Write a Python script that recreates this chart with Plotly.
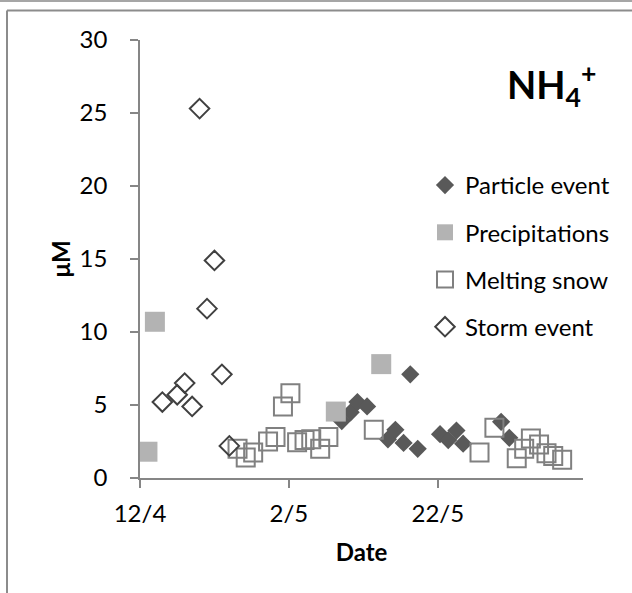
import plotly.graph_objects as go

# x values: days since 12 April
particle_days = [27.1, 28.3, 29.2, 30.5, 33.3, 34.3, 35.4, 36.3, 37.3, 40.3, 41.4, 42.5, 43.4, 48.5, 49.6]
particle_vals = [3.9, 4.5, 5.2, 4.9, 2.65, 3.3, 2.4, 7.1, 2.0, 3.0, 2.6, 3.25, 2.35, 3.85, 2.75]

precip_days = [1.0, 2.0, 26.3, 32.4]
precip_vals = [1.8, 10.7, 4.55, 7.8]

snow_days = [13.1, 14.2, 15.2, 17.2, 18.2, 19.2, 20.2, 21.1, 22.1, 23.0, 24.2, 25.3, 31.4,
             45.6, 47.6, 50.6, 51.6, 52.5, 53.6, 54.6, 55.5, 56.7]
snow_vals = [2.0, 1.4, 1.75, 2.5, 2.8, 4.9, 5.8, 2.45, 2.6, 2.65, 2.0, 2.8, 3.3,
             1.75, 3.45, 1.35, 2.0, 2.7, 2.3, 1.7, 1.5, 1.25]

storm_days = [3, 5, 6, 7, 8, 9, 10, 11, 12]
storm_vals = [5.2, 5.7, 6.5, 4.9, 25.3, 11.6, 14.9, 7.1, 2.2]

x_tickvals = [0, 20, 40]
x_ticktext = ["12/4", "2/5", "22/5"]

FONT = "Lato, Carlito, Calibri, sans-serif"
AX = "#868686"

fig = go.Figure()
fig.add_trace(go.Scatter(x=particle_days, y=particle_vals, mode="markers", name="Particle event",
                         legendgroup="a",
                         marker=dict(symbol="diamond", size=14, color="#595959",
                                     line=dict(width=0))))
fig.add_trace(go.Scatter(x=precip_days, y=precip_vals, mode="markers", name="Precipitations",
                         legendgroup="b",
                         marker=dict(symbol="square", size=20, color="#B3B3B3",
                                     line=dict(width=0))))
fig.add_trace(go.Scatter(x=snow_days, y=snow_vals, mode="markers", name="Melting snow",
                         legendgroup="c",
                         marker=dict(symbol="square-open", size=18, color="#808080",
                                     line=dict(width=2, color="#808080"))))
fig.add_trace(go.Scatter(x=storm_days, y=storm_vals, mode="markers", name="Storm event",
                         legendgroup="d",
                         marker=dict(symbol="diamond-open", size=15, color="#404040",
                                     line=dict(width=2, color="#404040"))))

L, R, T, B = 140, 49, 40, 115
W, H = 632, 593
pw, ph = W - L - R, H - T - B


def px(x):
    return (x - L) / pw


def py(y):
    return (H - B - y) / ph


shapes = [
    dict(type="line", xref="paper", yref="paper", x0=px(0), x1=px(632), y0=py(1), y1=py(1),
         line=dict(color="#A6A6A6", width=2)),
    dict(type="line", xref="paper", yref="paper", x0=px(7), x1=px(632), y0=py(10.5), y1=py(10.5),
         line=dict(color="#8C8C8C", width=2)),
    dict(type="line", xref="paper", yref="paper", x0=px(7), x1=px(7), y0=py(10.5), y1=py(593),
         line=dict(color="#8C8C8C", width=2)),
]

fig.update_layout(
    width=W, height=H,
    margin=dict(l=L, r=R, t=T, b=B, pad=0, autoexpand=False),
    paper_bgcolor="white", plot_bgcolor="white",
    font=dict(family=FONT, size=24, color="black"),
    showlegend=True,
    legend=dict(x=px(425), y=py(163), xanchor="left", yanchor="top",
                font=dict(family=FONT, size=24, color="black"),
                tracegroupgap=13, itemwidth=30, bgcolor="rgba(0,0,0,0)"),
    shapes=shapes,
    annotations=[
        dict(text="<b>NH<sub>4</sub><sup>+</sup></b>", xref="paper", yref="paper",
             x=px(505), y=py(85), xanchor="left", yanchor="middle", showarrow=False,
             font=dict(family=FONT, size=38, color="black")),
    ],
)

fig.update_xaxes(range=[0, 59.5], tickvals=x_tickvals, ticktext=x_ticktext,
                 showline=True, linecolor=AX, linewidth=1.5, ticks="outside", ticklen=8,
                 tickcolor=AX, tickwidth=1.5, showgrid=False, zeroline=False,
                 ticklabelstandoff=5, automargin=False,
                 title=dict(text="<b>Date</b>", font=dict(family=FONT, size=24), standoff=19))
fig.update_yaxes(range=[0, 30], dtick=5, tick0=0,
                 showline=True, linecolor=AX, linewidth=1.5, ticks="outside", ticklen=8,
                 tickcolor=AX, tickwidth=1.5, showgrid=False, zeroline=False,
                 ticklabelstandoff=18, automargin=False,
                 title=dict(text="<b>μM</b>", font=dict(family=FONT, size=24), standoff=2))

fig.write_html("out.html", config={"displayModeBar": False},
               post_script="document.body.style.margin='0px';document.body.style.overflow='hidden';")
